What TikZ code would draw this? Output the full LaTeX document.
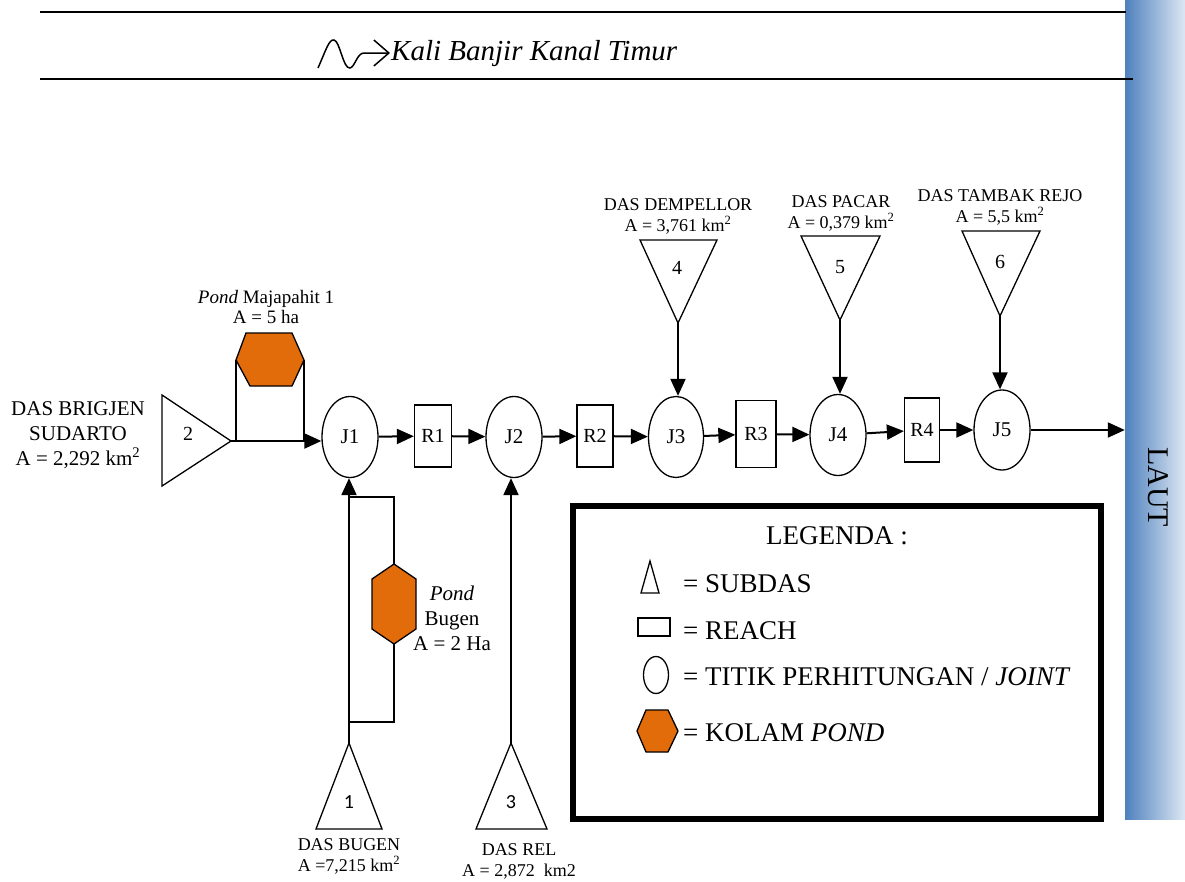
\documentclass[tikz,border=0pt]{standalone}
\usepackage{fontspec}
\setmainfont{Liberation Serif}
\newfontfamily\numsansfont{Carlito}
\usetikzlibrary{arrows.meta, positioning, shapes.geometric, calc}
\definecolor{PondOrange}{RGB}{227,108,10}
\definecolor{SeaBlue}{RGB}{79,129,189}
\definecolor{SeaPale}{RGB}{221,231,243}

\begin{document}
\begin{tikzpicture}[
    x=1pt, y=-1pt,
    every node/.style={align=center, inner sep=0pt},
    joint/.style={draw, ellipse, line width=1.3pt, minimum width=56pt, minimum height=81pt,
                  font=\fontsize{21}{24}\selectfont},
    reach/.style={draw, line width=1.3pt, minimum width=37pt, minimum height=62pt,
                  font=\fontsize{20}{24}\selectfont},
    flow/.style={line width=2pt, -{Triangle[length=17pt, width=15pt]}},
    link/.style={line width=1.3pt},
    subdas/.style={draw, line width=1.3pt},
    pond/.style={draw, line width=1.3pt, fill=PondOrange},
    num/.style={font=\fontsize{20}{24}\selectfont},
    numsans/.style={font=\numsansfont\fontsize{20}{24}\selectfont},
    das/.style={font=\fontsize{18}{21}\selectfont},
    legtext/.style={anchor=west, font=\fontsize{27}{32}\selectfont}
]
\useasboundingbox (0,0) rectangle (1185,881);

\node[left color=SeaBlue, right color=SeaPale, minimum width=60pt, minimum height=819pt] (laut) at (1155,409.5) {};
\node[rotate=-90, font=\fontsize{30}{34}\selectfont] (lauttext) at (1158,487) {LAUT};

\draw[link] (40,12) -- (1126,12);
\draw[link] (40,79) -- (1133,79);
\node[anchor=base west, font=\fontsize{29}{34}\selectfont\itshape] (kanal) at (391,60) {Kali Banjir Kanal Timur};
\draw[line width=1.5pt, -{Straight Barb[length=15pt, width=26pt]}]
    (318,68) .. controls (326,50) and (329,39) .. (334,40)
    .. controls (340,41) and (343,69) .. (350,68)
    .. controls (355,67) and (357,53) .. (364,53) -- (390,53);

\node[joint] (j1) at (350,437) {J1};
\node[reach] (r1) at (433,436) {R1};
\node[joint] (j2) at (514,437) {J2};
\node[reach, minimum width=36pt] (r2) at (595,436) {R2};
\node[joint, minimum width=55pt] (j3) at (676,437) {J3};
\node[reach, minimum width=40pt, minimum height=67pt] (r3) at (756,434) {R3};
\node[joint] (j4) at (838,435) {J4};
\node[reach, minimum width=35pt, minimum height=64pt] (r4) at (922,430) {R4};
\node[joint, minimum height=80pt] (j5) at (1002,430) {J5};

\draw[subdas] (162,395) -- (162,486) -- (231,441) coordinate (a2) -- cycle;
\node[num] (n2) at (188,434) {2};
\node[font=\fontsize{21}{25}\selectfont] (das2) at (78,435) {DAS BRIGJEN\\SUDARTO\\A = 2,292 km\textsuperscript{2}};

\draw[pond] (236,360) coordinate (pm1) -- (246,333) -- (292,333) -- (304,360) coordinate (pm2) -- (292,386) -- (250,386) -- cycle;
\coordinate (s1) at (236,441);
\coordinate (s2) at (304,441);
\draw[link] (s1) -- (pm1);
\draw[link] (pm2) -- (s2);
\node[font=\fontsize{19}{20}\selectfont] (pmlabel) at (266,307) {\textit{Pond} Majapahit 1\\A = 5 ha};

\draw[subdas] (316,829) -- (382,829) -- (349,743) coordinate (a1) -- cycle;
\node[numsans] (n1) at (349,802) {1};
\node[das] (das1) at (349,856) {DAS BUGEN\\A =7,215 km\textsuperscript{2}};

\draw[pond] (394,564) coordinate (pb1) -- (416,579) -- (416,629) -- (394,644) coordinate (pb2) -- (372,629) -- (372,579) -- cycle;
\coordinate (b1) at (349,497);
\coordinate (b2) at (349,722);
\draw[link] (b1) -- (b1 -| pb1) -- (pb1);
\draw[link] (pb2) -- (b2 -| pb2) -- (b2);
\node[font=\fontsize{21}{25}\selectfont] (pblabel) at (452,618) {\textit{Pond}\\Bugen\\A = 2 Ha};

\draw[subdas] (476,829) -- (547,829) -- (511,743) coordinate (a3) -- cycle;
\node[numsans] (n3) at (511,802) {3};
\node[das] (das3) at (519,861) {DAS REL\\A = 2,872\ \ km2};

\draw[subdas] (640,240) -- (717,240) -- (678,323) coordinate (a4) -- cycle;
\node[num] (n4) at (677,268) {4};
\node[das] (das4) at (678,216) {DAS DEMPELLOR\\A = 3,761 km\textsuperscript{2}};

\draw[subdas] (801,236) -- (880,236) -- (840,320) coordinate (a5) -- cycle;
\node[num] (n5) at (840,267) {5};
\node[das] (das5) at (841,213) {DAS PACAR\\A = 0,379 km\textsuperscript{2}};

\draw[subdas] (962,231) -- (1040,231) -- (1000,316) coordinate (a6) -- cycle;
\node[num] (n6) at (1000,262) {6};
\node[das] (das6) at (1000,207) {DAS TAMBAK REJO\\A = 5,5 km\textsuperscript{2}};

\draw[flow] (a2) -- (a2 -| j1.west);
\draw[flow] (a1) -- (a1 |- j1.south);
\draw[flow] (a3) -- (a3 |- j2.south);
\draw[flow] (a4) -- (a4 |- j3.north);
\draw[flow] (a5) -- (a5 |- j4.north);
\draw[flow] (a6) -- (a6 |- j5.north);
\draw[flow] (j1) -- (r1);
\draw[flow] (r1) -- (j2);
\draw[flow] (j2) -- (r2);
\draw[flow] (r2) -- (j3);
\draw[flow] (j3) -- (r3);
\draw[flow] (r3) -- (j4);
\draw[flow] (j4) -- (r4);
\draw[flow] (r4) -- (j5);
\draw[flow] (j5) -- (j5 -| laut.west);

\node[draw, line width=6pt, minimum width=528pt, minimum height=313pt] (legend) at (837,662.5) {};
\node[font=\fontsize{27}{32}\selectfont] (legtitle) at (837,536) {LEGENDA :};
\draw[subdas] (641,593) -- (659,593) -- (650,561) -- cycle;
\node[draw, line width=1.3pt, minimum width=32pt, minimum height=18pt] (legreach) at (654,627) {};
\node[draw, ellipse, line width=1.3pt, minimum width=25pt, minimum height=37pt] (legjoint) at (656,675) {};
\draw[pond] (637,731) -- (646,710) -- (668,710) -- (678,731) -- (668,752) -- (646,752) -- cycle;
\node[legtext] (legt1) at (683,584) {= SUBDAS};
\node[legtext] (legt2) at (683,631) {= REACH};
\node[legtext] (legt3) at (683,677) {= TITIK PERHITUNGAN / \textit{JOINT}};
\node[legtext] (legt4) at (683,733) {= KOLAM \textit{POND}};
\end{tikzpicture}
\end{document}
